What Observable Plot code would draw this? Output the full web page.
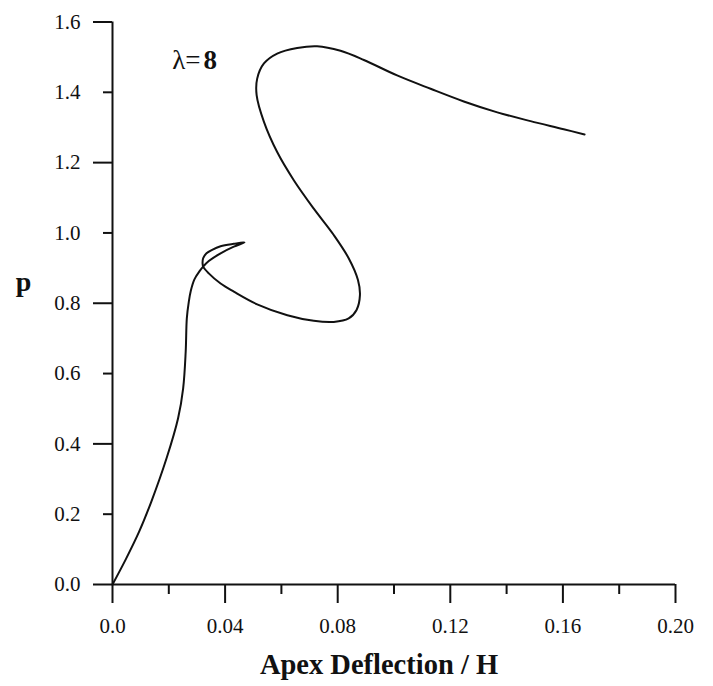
<!DOCTYPE html>
<html><head><meta charset="utf-8">
<script src="https://cdn.jsdelivr.net/npm/d3@7"></script>
<script src="https://cdn.jsdelivr.net/npm/@observablehq/plot@0.6"></script>
<style>body{margin:0;background:#fff}</style>
</head><body><div id="chart"></div>
<script>
// Load-deflection path (lambda = 8), in drawing order
const deflection = [0, 0.0048, 0.0095, 0.0138, 0.0192, 0.0233, 0.0251, 0.0260, 0.0264, 0.0271, 0.0278, 0.0291, 0.0310, 0.0322, 0.0342, 0.0384, 0.0431, 0.0469, 0.0431, 0.0384, 0.0354, 0.0334, 0.0322, 0.0320, 0.0322, 0.0342, 0.0384, 0.0431, 0.0514, 0.0621, 0.0715, 0.0786, 0.0839, 0.0867, 0.0879, 0.0872, 0.0839, 0.0786, 0.0715, 0.0644, 0.0585, 0.0538, 0.0512, 0.0514, 0.0538, 0.0585, 0.0656, 0.0727, 0.0810, 0.0893, 0.1011, 0.1130, 0.1248, 0.1367, 0.1485, 0.1603, 0.1677];
const load = [0, 0.073, 0.151, 0.236, 0.359, 0.473, 0.558, 0.662, 0.757, 0.804, 0.835, 0.868, 0.892, 0.904, 0.920, 0.942, 0.961, 0.973, 0.969, 0.962, 0.952, 0.942, 0.928, 0.913, 0.904, 0.885, 0.856, 0.833, 0.797, 0.766, 0.750, 0.747, 0.757, 0.781, 0.823, 0.866, 0.928, 0.994, 1.069, 1.150, 1.230, 1.316, 1.392, 1.439, 1.482, 1.510, 1.526, 1.531, 1.518, 1.492, 1.448, 1.410, 1.374, 1.343, 1.318, 1.295, 1.280];

const xMajorTicks = [0, 0.04, 0.08, 0.12, 0.16, 0.20];
const xTickLabels = ["0.0", "0.04", "0.08", "0.12", "0.16", "0.20"];
const xMinorTicks = [0.02, 0.06, 0.10, 0.14, 0.18];
const yLabelTicks = [0, 0.2, 0.4, 0.6, 0.8, 1.0, 1.2, 1.4, 1.6];
const yTickLabels = ["0.0", "0.2", "0.4", "0.6", "0.8", "1.0", "1.2", "1.4", "1.6"];
const yMajorTicks = [0, 0.4, 0.8, 1.2, 1.6];
const yMinorTicks = [0.2, 0.6, 1.0, 1.4];
const xTitle = "Apex Deflection / H";
const yTitle = "p";
const lambdaPrefix = "λ=";
const lambdaValue = "8";
const lambdaPos = {x: 0.0212, xValue: 0.0323, y: 1.4676};

const points = deflection.map((x, i) => ({x, y: load[i]}));
const ink = "#111";
const blank = () => "";

const chart = Plot.plot({
  width: 713,
  height: 686,
  marginLeft: 112,
  marginRight: 38,
  marginTop: 21.5,
  marginBottom: 102,
  x: {domain: [0, 0.2]},
  y: {domain: [0, 1.6]},
  style: {fontFamily: "'Liberation Serif', 'Times New Roman', serif", fontSize: "21px", color: ink, background: "#fff", overflow: "visible"},
  marks: [
    Plot.ruleX([0], {y1: 0, y2: 1.6, stroke: ink, strokeWidth: 2}),
    Plot.ruleY([0], {x1: 0, x2: 0.2, stroke: ink, strokeWidth: 2}),
    Plot.axisX({ticks: xMajorTicks, tickSize: 19, stroke: ink, strokeWidth: 2, tickFormat: blank, label: null}),
    Plot.axisX({ticks: xMinorTicks, tickSize: 10, stroke: ink, strokeWidth: 2, tickFormat: blank, label: null}),
    Plot.axisX({ticks: xMajorTicks, tickSize: 0, tickPadding: 34, fontSize: 21, fill: ink, label: null,
      tickFormat: d => xTickLabels[xMajorTicks.indexOf(d)]}),
    Plot.axisY({ticks: yMajorTicks, tickSize: 19, stroke: ink, strokeWidth: 2, tickFormat: blank, label: null}),
    Plot.axisY({ticks: yMinorTicks, tickSize: 9, stroke: ink, strokeWidth: 2, tickFormat: blank, label: null}),
    Plot.axisY({ticks: yLabelTicks, tickSize: 0, tickPadding: 32, fontSize: 21, fill: ink, label: null,
      tickFormat: d => yTickLabels[yLabelTicks.indexOf(d)]}),
    Plot.line(points, {x: "x", y: "y", stroke: ink, strokeWidth: 2, curve: "catmull-rom"}),
    Plot.text([xTitle], {frameAnchor: "bottom", dx: -15, dy: 80, fontSize: 28.5, fontWeight: "bold", fill: ink, lineAnchor: "middle"}),
    Plot.text([yTitle], {x: 0, y: 0.836, dx: -89, fontSize: 28, fontWeight: "bold", fill: ink, lineAnchor: "bottom", textAnchor: "middle"}),
    Plot.text([lambdaPrefix], {x: lambdaPos.x, y: lambdaPos.y, fontSize: 27, fill: ink, textAnchor: "start", lineAnchor: "bottom"}),
    Plot.text([lambdaValue], {x: lambdaPos.xValue, y: lambdaPos.y, fontSize: 27, fontWeight: "bold", fill: ink, textAnchor: "start", lineAnchor: "bottom"})
  ]
});
document.getElementById("chart").append(chart);
</script>
</body></html>
